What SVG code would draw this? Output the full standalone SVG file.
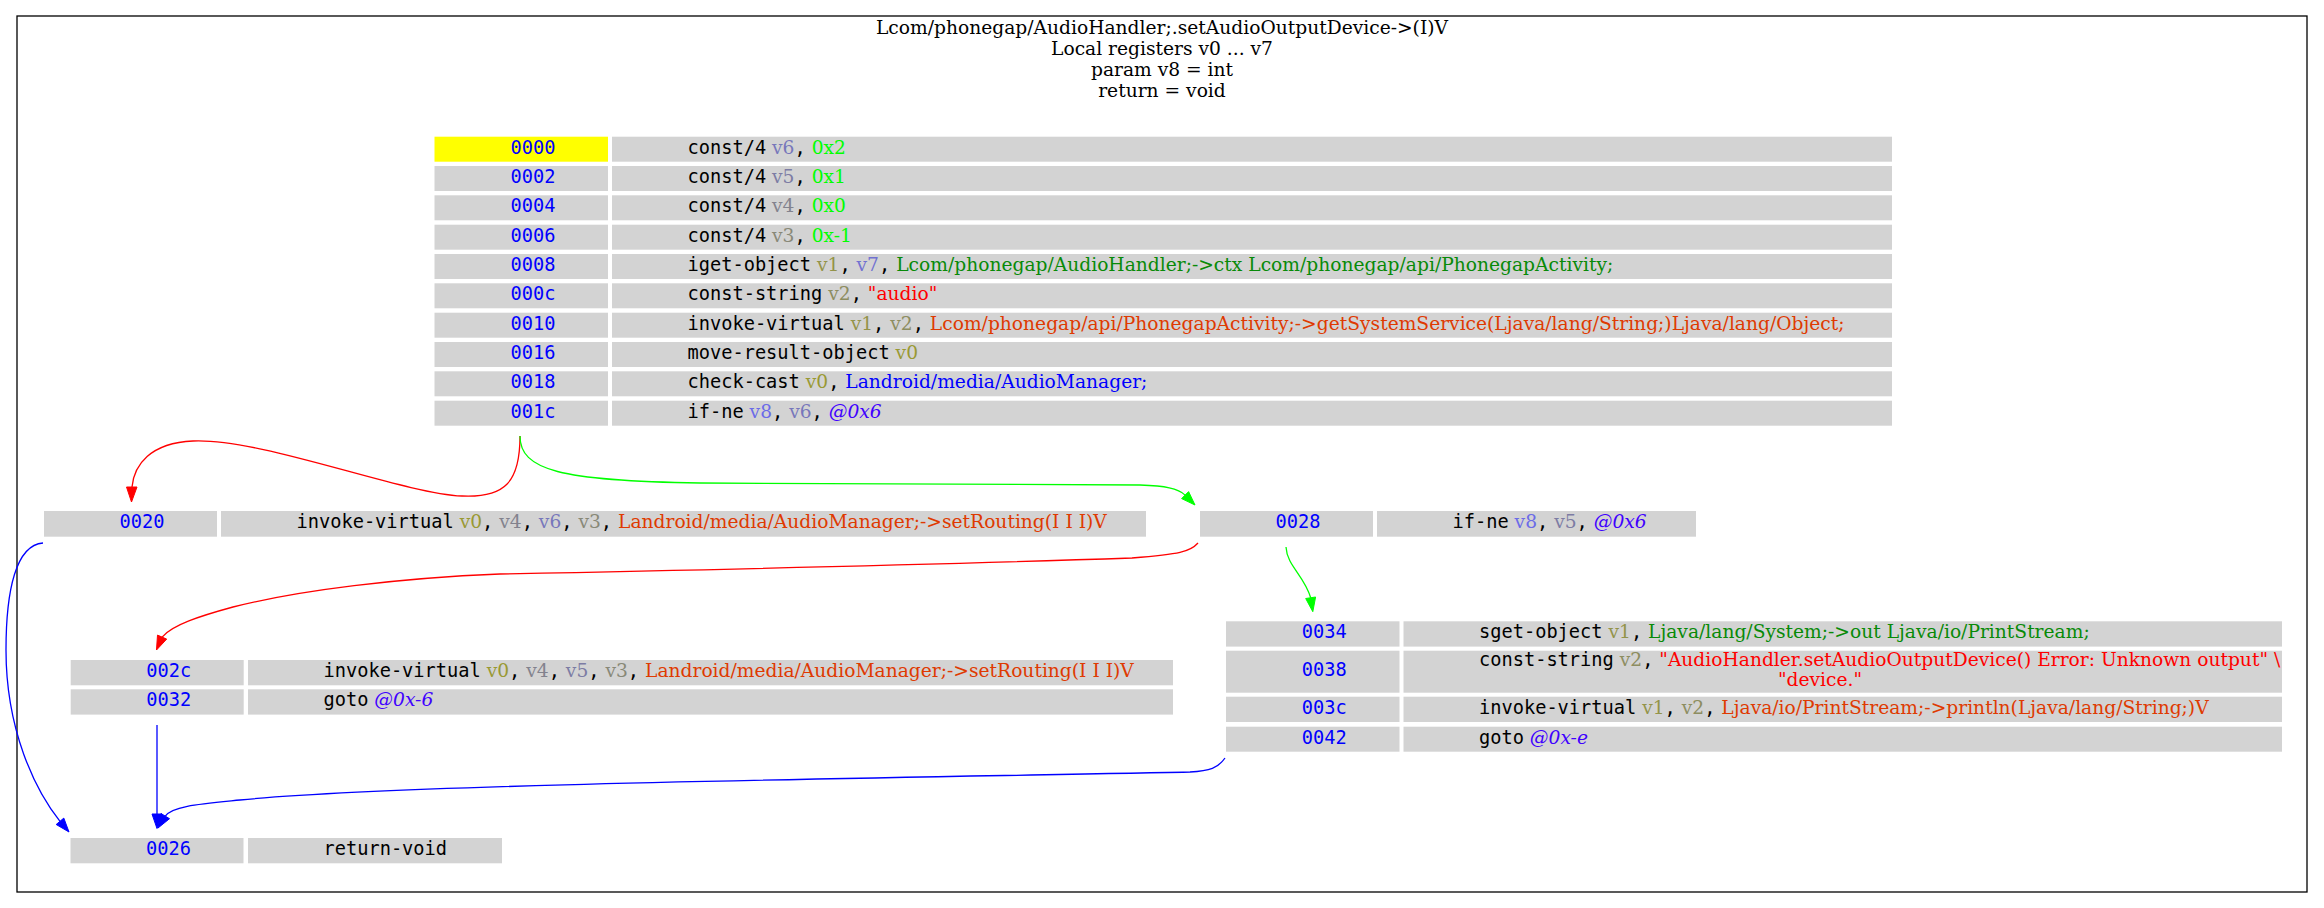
<svg xmlns="http://www.w3.org/2000/svg" width="2324" height="908" viewBox="0 0 2324 908" xml:space="preserve">
<style>
  .frame { fill: #ffffff; stroke: #000000; stroke-width: 1.3; }
  .title { font-family: "DejaVu Serif", serif; font-size: 18.67px; fill: #000000; text-anchor: middle; }
  .idx { fill: #d3d3d3; }
  .start { fill: #ffff00; }
  .ins { fill: #d3d3d3; }
  .a { font-family: "DejaVu Sans Mono", monospace; font-size: 18.67px; fill: #0000ff; text-anchor: middle; }
  .c { font-family: "DejaVu Sans Mono", monospace; font-size: 18.67px; fill: #000000; }
  .s { font-family: "DejaVu Serif", serif; font-size: 18.67px; }
  .r0 { fill: #999933; } .r1 { fill: #939349; } .r2 { fill: #8d8d60; }
  .r3 { fill: #888877; } .r4 { fill: #82828d; } .r5 { fill: #7c7ca4; }
  .r6 { fill: #7777bb; } .r7 { fill: #7171d1; } .r8 { fill: #6b6be8; }
  .lit { fill: #00ff00; }
  .str { fill: #ff0000; }
  .meth { fill: #df3a01; }
  .fld { fill: #088a08; }
  .typ { fill: #0000ff; }
  .off { fill: #4000ff; font-style: italic; }
  .e { fill: none; stroke-width: 1.3; }
  .red { stroke: #ff0000; } .redh { fill: #ff0000; stroke: #ff0000; }
  .grn { stroke: #00ff00; } .grnh { fill: #00ff00; stroke: #00ff00; }
  .blu { stroke: #0000ff; } .bluh { fill: #0000ff; stroke: #0000ff; }
</style>
<rect width="2324" height="908" fill="#ffffff"/>
<g id="cluster">
  <rect class="frame" x="17" y="16" width="2290" height="876"/>
  <text class="title" x="1162" y="33.5">Lcom/phonegap/AudioHandler;.setAudioOutputDevice-&gt;(I)V</text>
  <text class="title" x="1162" y="55">Local registers v0 ... v7</text>
  <text class="title" x="1162" y="76">param v8 = int</text>
  <text class="title" x="1162" y="97">return = void</text>
</g>

<g id="edges">
  <path class="e red" d="M520,436 C520,482 505,498 462,496 C400,493 262,438 193,441 C150,443 134,465 132,487"/>
  <polygon class="redh" points="126.5,487 137,487 131.5,502"/>
  <path class="e grn" d="M520,436 C520,470 560,481 700,483 L1140,485 C1165,486 1178,488 1185.1,495.1"/>
  <polygon class="grnh" points="1188.6,491.6 1181.6,498.6 1195,505"/>
  <path class="e red" d="M1198,543 C1190,552 1180,554 1132,558 C900,566 600,572 500,574 C400,578 300,590 233,607 C200,616 172,625 162.1,637.1"/>
  <polygon class="redh" points="166.7,639.1 157.5,635.1 156.5,650"/>
  <path class="e grn" d="M1286,547 C1287,566 1304,575 1310.7,597.8"/>
  <polygon class="grnh" points="1315.6,597 1305.7,598.5 1312.8,611.7"/>
  <path class="e blu" d="M43,543 C16,545 6,590 6,650 C6,730 35,790 60,821.3"/>
  <polygon class="bluh" points="56.2,824.5 63.8,818.1 69,832"/>
  <path class="e blu" d="M157,725 L157,814"/>
  <polygon class="bluh" points="152,814 162,814 157,828.5"/>
  <path class="e blu" d="M1225,758 C1218,768 1210,771 1190,772 C900,778 400,784 240,800 C200,804 172,806 165.3,816.1"/>
  <polygon class="bluh" points="169.5,818.7 161,813.5 158,828"/>
</g>

<g id="node-0000">
  <rect class="start" x="434.5" y="136.7" width="173.5" height="25"/>
  <rect class="ins" x="612" y="136.7" width="1280" height="25"/>
  <text class="a" x="533" y="153.5">0000</text>
  <text class="c" x="687.5" y="153.5">const/4<tspan class="s r6"> v6</tspan>,<tspan class="s lit"> 0x2</tspan></text>

  <rect class="idx" x="434.5" y="166" width="173.5" height="25"/>
  <rect class="ins" x="612" y="166" width="1280" height="25"/>
  <text class="a" x="533" y="182.8">0002</text>
  <text class="c" x="687.5" y="182.8">const/4<tspan class="s r5"> v5</tspan>,<tspan class="s lit"> 0x1</tspan></text>

  <rect class="idx" x="434.5" y="195.3" width="173.5" height="25"/>
  <rect class="ins" x="612" y="195.3" width="1280" height="25"/>
  <text class="a" x="533" y="212.1">0004</text>
  <text class="c" x="687.5" y="212.1">const/4<tspan class="s r4"> v4</tspan>,<tspan class="s lit"> 0x0</tspan></text>

  <rect class="idx" x="434.5" y="224.7" width="173.5" height="25"/>
  <rect class="ins" x="612" y="224.7" width="1280" height="25"/>
  <text class="a" x="533" y="241.5">0006</text>
  <text class="c" x="687.5" y="241.5">const/4<tspan class="s r3"> v3</tspan>,<tspan class="s lit"> 0x-1</tspan></text>

  <rect class="idx" x="434.5" y="254" width="173.5" height="25"/>
  <rect class="ins" x="612" y="254" width="1280" height="25"/>
  <text class="a" x="533" y="270.8">0008</text>
  <text class="c" x="687.5" y="270.8">iget-object<tspan class="s r1"> v1</tspan>,<tspan class="s r7"> v7</tspan>,<tspan class="s fld"> Lcom/phonegap/AudioHandler;-&gt;ctx Lcom/phonegap/api/PhonegapActivity;</tspan></text>

  <rect class="idx" x="434.5" y="283.3" width="173.5" height="25"/>
  <rect class="ins" x="612" y="283.3" width="1280" height="25"/>
  <text class="a" x="533" y="300.1">000c</text>
  <text class="c" x="687.5" y="300.1">const-string<tspan class="s r2"> v2</tspan>,<tspan class="s str"> "audio"</tspan></text>

  <rect class="idx" x="434.5" y="312.7" width="173.5" height="25"/>
  <rect class="ins" x="612" y="312.7" width="1280" height="25"/>
  <text class="a" x="533" y="329.5">0010</text>
  <text class="c" x="687.5" y="329.5">invoke-virtual<tspan class="s r1"> v1</tspan>,<tspan class="s r2"> v2</tspan>,<tspan class="s meth"> Lcom/phonegap/api/PhonegapActivity;-&gt;getSystemService(Ljava/lang/String;)Ljava/lang/Object;</tspan></text>

  <rect class="idx" x="434.5" y="342" width="173.5" height="25"/>
  <rect class="ins" x="612" y="342" width="1280" height="25"/>
  <text class="a" x="533" y="358.8">0016</text>
  <text class="c" x="687.5" y="358.8">move-result-object<tspan class="s r0"> v0</tspan></text>

  <rect class="idx" x="434.5" y="371.3" width="173.5" height="25"/>
  <rect class="ins" x="612" y="371.3" width="1280" height="25"/>
  <text class="a" x="533" y="388.1">0018</text>
  <text class="c" x="687.5" y="388.1">check-cast<tspan class="s r0"> v0</tspan>,<tspan class="s typ"> Landroid/media/AudioManager;</tspan></text>

  <rect class="idx" x="434.5" y="400.7" width="173.5" height="25"/>
  <rect class="ins" x="612" y="400.7" width="1280" height="25"/>
  <text class="a" x="533" y="417.5">001c</text>
  <text class="c" x="687.5" y="417.5">if-ne<tspan class="s r8"> v8</tspan>,<tspan class="s r6"> v6</tspan>,<tspan class="s off"> @0x6</tspan></text>
</g>

<g id="node-0020">
  <rect class="idx" x="44" y="511" width="173" height="25.7"/>
  <rect class="ins" x="221" y="511" width="925" height="25.7"/>
  <text class="a" x="142" y="527.8">0020</text>
  <text class="c" x="296.5" y="527.8">invoke-virtual<tspan class="s r0"> v0</tspan>,<tspan class="s r4"> v4</tspan>,<tspan class="s r6"> v6</tspan>,<tspan class="s r3"> v3</tspan>,<tspan class="s meth"> Landroid/media/AudioManager;-&gt;setRouting(I I I)V</tspan></text>
</g>

<g id="node-0028">
  <rect class="idx" x="1200" y="511" width="173" height="25.7"/>
  <rect class="ins" x="1377" y="511" width="319" height="25.7"/>
  <text class="a" x="1298" y="527.8">0028</text>
  <text class="c" x="1452.5" y="527.8">if-ne<tspan class="s r8"> v8</tspan>,<tspan class="s r5"> v5</tspan>,<tspan class="s off"> @0x6</tspan></text>
</g>

<g id="node-002c">
  <rect class="idx" x="70.7" y="660" width="173" height="25.3"/>
  <rect class="ins" x="248" y="660" width="925" height="25.3"/>
  <text class="a" x="168.7" y="676.8">002c</text>
  <text class="c" x="323.5" y="676.8">invoke-virtual<tspan class="s r0"> v0</tspan>,<tspan class="s r4"> v4</tspan>,<tspan class="s r5"> v5</tspan>,<tspan class="s r3"> v3</tspan>,<tspan class="s meth"> Landroid/media/AudioManager;-&gt;setRouting(I I I)V</tspan></text>

  <rect class="idx" x="70.7" y="689.3" width="173" height="25.3"/>
  <rect class="ins" x="248" y="689.3" width="925" height="25.3"/>
  <text class="a" x="168.7" y="706.1">0032</text>
  <text class="c" x="323.5" y="706.1">goto<tspan class="s off"> @0x-6</tspan></text>
</g>

<g id="node-0026">
  <rect class="idx" x="70.5" y="838" width="173" height="25.3"/>
  <rect class="ins" x="248" y="838" width="254" height="25.3"/>
  <text class="a" x="168.5" y="854.8">0026</text>
  <text class="c" x="323.5" y="854.8">return-void</text>
</g>

<g id="node-0034">
  <rect class="idx" x="1226" y="621.3" width="173.5" height="25.3"/>
  <rect class="ins" x="1403.5" y="621.3" width="878.5" height="25.3"/>
  <text class="a" x="1324.3" y="638.1">0034</text>
  <text class="c" x="1479" y="638.1">sget-object<tspan class="s r1"> v1</tspan>,<tspan class="s fld"> Ljava/lang/System;-&gt;out Ljava/io/PrintStream;</tspan></text>

  <rect class="idx" x="1226" y="650.7" width="173.5" height="42"/>
  <rect class="ins" x="1403.5" y="650.7" width="878.5" height="42"/>
  <text class="a" x="1324.3" y="676">0038</text>
  <text class="c" x="1479" y="665.5">const-string<tspan class="s r2"> v2</tspan>,<tspan class="s str"> "AudioHandler.setAudioOutputDevice() Error: Unknown output" \</tspan></text>
  <text class="s str" x="1820" y="686" text-anchor="middle">"device."</text>

  <rect class="idx" x="1226" y="696.7" width="173.5" height="25.3"/>
  <rect class="ins" x="1403.5" y="696.7" width="878.5" height="25.3"/>
  <text class="a" x="1324.3" y="713.5">003c</text>
  <text class="c" x="1479" y="713.5">invoke-virtual<tspan class="s r1"> v1</tspan>,<tspan class="s r2"> v2</tspan>,<tspan class="s meth"> Ljava/io/PrintStream;-&gt;println(Ljava/lang/String;)V</tspan></text>

  <rect class="idx" x="1226" y="726.7" width="173.5" height="25"/>
  <rect class="ins" x="1403.5" y="726.7" width="878.5" height="25"/>
  <text class="a" x="1324.3" y="743.5">0042</text>
  <text class="c" x="1479" y="743.5">goto<tspan class="s off"> @0x-e</tspan></text>
</g>
</svg>
